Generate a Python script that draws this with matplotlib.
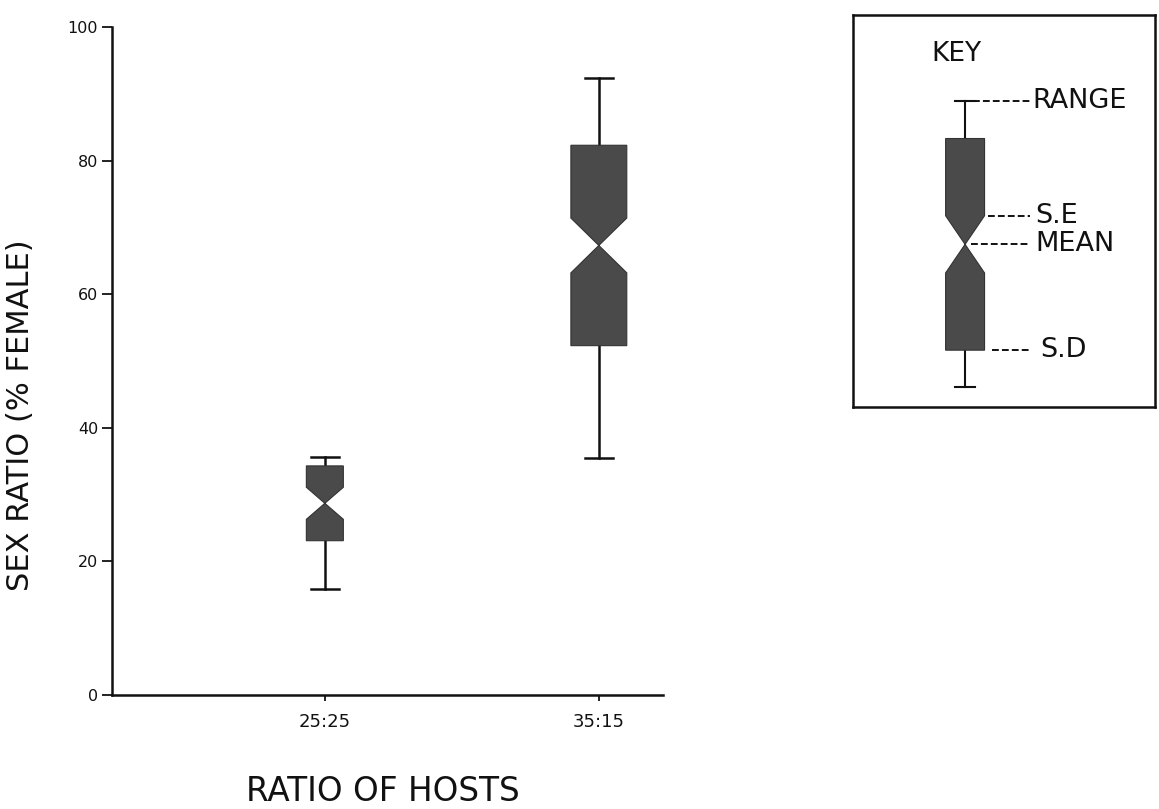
import numpy as np
import matplotlib
matplotlib.use('Agg')
import matplotlib.pyplot as plt

# data
hosts = ['25:25', '35:15']
means = [28.7, 67.3]
ses = [2.4, 4.1]
sds = [5.6, 15.0]
mins = [15.8, 35.5]
maxs = [35.6, 92.4]

# key box (its own 0-100 scale inside the frame)
key_mean, key_se, key_sd = 41.5, 7.3, 27.0
key_min, key_max = 5.1, 78.1
key_labels = ['RANGE', 'S.E', 'MEAN', 'S.D']

box_w = [0.135, 0.204]
fill_c = '#4a4a4a'
edge_c = '#333333'
ink = '#111111'

plt.rcParams['font.family'] = ['DejaVu Sans']


def notch_box(ax, x, m, se, sd, lo, hi, w, cap, lw):
    h = w / 2
    xs = [x - h, x + h, x + h, x, x + h, x + h, x - h, x - h, x, x - h]
    ys = [m + sd, m + sd, m + se, m, m - se, m - sd, m - sd, m - se, m, m + se]
    ax.fill(xs, ys, color=fill_c, ec=edge_c, lw=0.8, zorder=3, clip_on=False)
    ax.plot([x, x], [m + sd, hi], color=ink, lw=lw, zorder=2, clip_on=False)
    ax.plot([x, x], [m - sd, lo], color=ink, lw=lw, zorder=2, clip_on=False)
    ax.plot([x - cap / 2, x + cap / 2], [hi, hi], color=ink, lw=lw, clip_on=False)
    ax.plot([x - cap / 2, x + cap / 2], [lo, lo], color=ink, lw=lw, clip_on=False)


fig = plt.figure(figsize=(11.59, 8.09), dpi=100)
ax = fig.add_axes([0.0966, 0.1409, 0.4754, 0.8257])

xpos = np.arange(1, len(hosts) + 1)
for i in range(len(hosts)):
    notch_box(ax, xpos[i], means[i], ses[i], sds[i], mins[i], maxs[i],
              box_w[i], 0.10, 1.8)

ax.set_xlim(0.223, 2.234)
ax.set_ylim(0, 100)
ax.set_xticks(xpos)
ax.set_xticklabels(hosts)
ax.set_yticks([0, 20, 40, 60, 80, 100])
ax.spines['top'].set_visible(False)
ax.spines['right'].set_visible(False)
for s in ['left', 'bottom']:
    ax.spines[s].set_linewidth(1.8)
    ax.spines[s].set_color(ink)
ax.tick_params(axis='y', length=7, width=1.3, pad=3, labelsize=11.5, colors=ink)
ax.tick_params(axis='x', length=4, width=1.3, pad=9, labelsize=13, colors=ink)

fig.text(21 / 1159, 1 - 415 / 809, 'SEX RATIO (% FEMALE)', rotation=90,
         ha='center', va='center', fontsize=22, color=ink)
fig.text(383 / 1159, 1 - 801 / 809, 'RATIO OF HOSTS', ha='center',
         va='baseline', fontsize=23.5, color=ink)

# key panel
kax = fig.add_axes([0.736, 0.4969, 0.2606, 0.4845])
kax.set_xlim(0, 1)
kax.set_ylim(0, 100)
kax.set_xticks([])
kax.set_yticks([])
for s in kax.spines.values():
    s.set_linewidth(1.8)
    s.set_color(ink)

kx = 0.371
notch_box(kax, kx, key_mean, key_se, key_sd, key_min, key_max, 0.129, 0.066, 1.5)
kax.text(0.26, 90, 'KEY', fontsize=19, va='center', ha='left', color=ink)

label_y = [key_max, key_mean + key_se, key_mean, key_mean - key_sd]
dash_x0 = [0.397, 0.447, 0.39, 0.46]
text_x = [0.593, 0.603, 0.603, 0.62]
for lab, y, x0, tx in zip(key_labels, label_y, dash_x0, text_x):
    kax.plot([x0, 0.586], [y, y], color=ink, lw=1.4, ls=(0, (3.5, 1.6)))
    kax.text(tx, y, lab, fontsize=19.5, va='center', ha='left', color=ink)

fig.savefig('out.png', dpi=100, facecolor='white')
